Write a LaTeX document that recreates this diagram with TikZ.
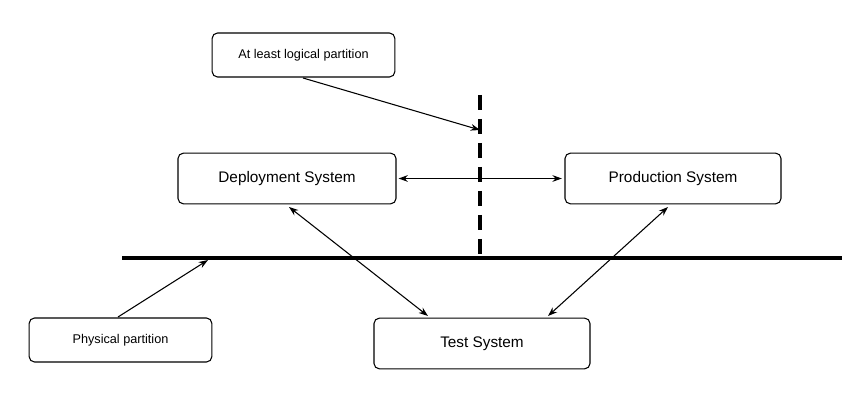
\documentclass[tikz,border=0pt]{standalone}
\usepackage{fontspec}
\setmainfont{Liberation Sans}
\usetikzlibrary{arrows.meta}
\begin{document}
\begin{tikzpicture}[x=0.75pt,y=-0.75pt,
  box/.style={draw,rounded corners=4pt,line width=0.8pt,inner sep=0pt},
  conn/.style={line width=0.8pt,-{Stealth[length=7pt,width=5pt]}},
  both/.style={line width=0.8pt,{Stealth[length=7pt,width=5pt]}-{Stealth[length=7pt,width=5pt]}}]
\useasboundingbox (0,0) rectangle (867,402);
\node[box,minimum width=137pt,minimum height=33pt,font=\fontsize{9.5}{11}\selectfont] (log) at (303.5,55) {At least logical partition};
\node[box,minimum width=163.5pt,minimum height=38pt,font=\fontsize{11.5}{13}\selectfont] (dep) at (287,178.5) {Deployment System};
\node[box,minimum width=162pt,minimum height=38pt,font=\fontsize{11.5}{13}\selectfont] (prod) at (673,178.5) {Production System};
\node[box,minimum width=137pt,minimum height=33pt,font=\fontsize{9.5}{11}\selectfont] (phys) at (120.5,340) {Physical partition};
\node[box,minimum width=162pt,minimum height=38pt,font=\fontsize{11.5}{13}\selectfont] (test) at (482,343.5) {Test System};
\coordinate (hl) at (122,258); \coordinate (hr) at (842,258);
\coordinate (vt) at (480,95); \coordinate (vb) at (480,258);
\coordinate (la) at (480,130); \coordinate (pa) at (208,260);
\draw[line width=2.4pt] (hl) -- (hr);
\draw[line width=2.4pt,dash pattern=on 11pt off 7pt] (vt) -- (vb);
\draw[conn] (303,78) -- (la);
\draw[conn] (118,317) -- (pa);
\draw[both] (dep.east) ++(2,0) -- ([xshift=-2]prod.west);
\draw[both] (289,207) -- (428,316);
\draw[both] (668,207) -- (548,316);
\end{tikzpicture}
\end{document}
